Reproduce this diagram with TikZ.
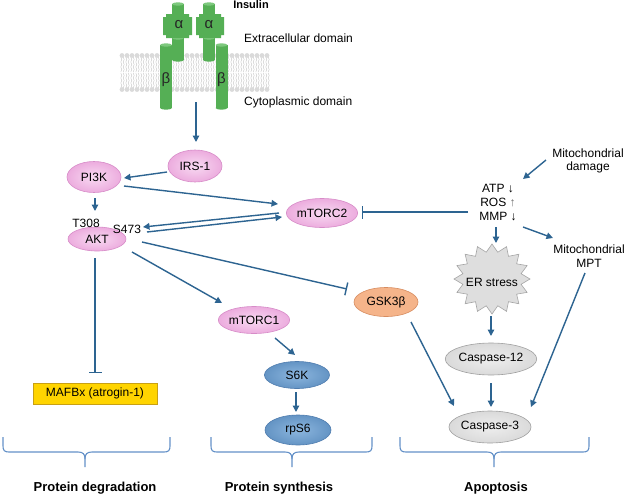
\documentclass[tikz,border=0pt]{standalone}
\usepackage{fontspec}
\setmainfont{Liberation Sans}
\usetikzlibrary{arrows.meta,shapes.geometric,calc}
\definecolor{arrc}{RGB}{45,100,145}
\definecolor{bracec}{RGB}{100,145,200}
\definecolor{pinkb}{RGB}{215,140,200}
\definecolor{pinkin}{RGB}{248,218,242}
\definecolor{pinkout}{RGB}{236,172,222}
\definecolor{blueb}{RGB}{80,125,175}
\definecolor{bluein}{RGB}{140,182,222}
\definecolor{blueout}{RGB}{100,148,196}
\definecolor{greyb}{RGB}{160,160,160}
\definecolor{greyin}{RGB}{238,238,238}
\definecolor{greyout}{RGB}{218,218,218}
\definecolor{orangeb}{RGB}{215,140,95}
\definecolor{orangef}{RGB}{245,180,138}
\definecolor{yellowb}{RGB}{200,160,20}
\definecolor{yellowf}{RGB}{255,212,0}
\definecolor{gfill}{RGB}{85,175,85}
\definecolor{gtop}{RGB}{125,200,125}
\definecolor{headc}{RGB}{218,218,218}
\definecolor{tailc}{RGB}{200,200,200}
\definecolor{starf}{RGB}{222,222,222}
\definecolor{starb}{RGB}{165,165,165}
\newcommand{\rcyl}[4]{%
  \fill[gfill] (#1-#2,#3) rectangle (#1+#2,#4);
  \fill[gfill] (#1,#4) ellipse (#2pt and 1.6pt);
  \fill[gtop] (#1,#3) ellipse (#2pt and 1.6pt);
}
\newcommand{\mybrace}[3]{%
  \draw[brc] (#1,437) -- (#1,446) .. controls (#1,450.5) and (#1+1.5,452) .. (#1+6,452) -- (#3-7,452) .. controls (#3-2,452) and (#3,454) .. (#3,459) -- (#3,467);
  \draw[brc] (#2,437) -- (#2,446) .. controls (#2,450.5) and (#2-1.5,452) .. (#2-6,452) -- (#3+7,452) .. controls (#3+2,452) and (#3,454) .. (#3,459);
}
\begin{document}
\begin{tikzpicture}[x=1pt,y=-1pt,
  every node/.style={font=\fontsize{12}{14}\selectfont, inner sep=0pt},
  arr/.style={draw=arrc, line width=1.4pt, -{Triangle[length=6.5pt,width=6.5pt]}},
  inh/.style={draw=arrc, line width=1.4pt, -{Bar[width=13pt,line width=1.4pt]}},
  ell/.style={ellipse, line width=0.6pt},
  pinkn/.style={ell, draw=pinkb, inner color=pinkin, outer color=pinkout},
  bluen/.style={ell, draw=blueb, inner color=bluein, outer color=blueout},
  greyn/.style={ell, draw=greyb, inner color=greyin, outer color=greyout},
  orangen/.style={ell, draw=orangeb, fill=orangef},
  brc/.style={draw=bracec, line width=1.1pt},
  lbl/.style={font=\bfseries\fontsize{13}{15}\selectfont},
  tail/.style={draw=tailc, line width=0.45pt},
  greek/.style={font=\fontsize{15}{17}\selectfont, text=black!85},
]
\useasboundingbox (0,0) rectangle (625,496);
\fill[white] (0,0) rectangle (625,496);

% ---- lipid bilayer ----
\foreach \x in {122,127,...,267} {
  \draw[tail] (\x-1.2,57) -- (\x-0.2,59.5) -- (\x-1.2,62) -- (\x-0.2,64.5) -- (\x-1.2,67) -- (\x-0.2,69.5) -- (\x-1.2,72);
  \draw[tail] (\x+1.2,57) -- (\x+2.2,59.5) -- (\x+1.2,62) -- (\x+2.2,64.5) -- (\x+1.2,67) -- (\x+2.2,69.5) -- (\x+1.2,72);
  \draw[tail] (\x-1.2,73) -- (\x-0.2,75.5) -- (\x-1.2,78) -- (\x-0.2,80.5) -- (\x-1.2,83) -- (\x-0.2,85.5) -- (\x-1.2,88);
  \draw[tail] (\x+1.2,73) -- (\x+2.2,75.5) -- (\x+1.2,78) -- (\x+2.2,80.5) -- (\x+1.2,83) -- (\x+2.2,85.5) -- (\x+1.2,88);
  \fill[headc] (\x,55.5) circle (2.4pt);
  \fill[headc] (\x,89.5) circle (2.4pt);
}

% ---- receptor ----
\rcyl{166}{6}{45}{108}
\rcyl{221.5}{6}{45}{108}
\rcyl{178}{6}{38}{60}
\rcyl{209}{6}{38}{60}
\rcyl{178}{6}{4}{15}
\rcyl{209}{6}{4}{15}
\fill[gfill] (163,17) -- (166,17) -- (166,14) -- (189,14) -- (189,17) -- (192,17) -- (192,35) -- (189,35) -- (189,38) -- (166,38) -- (166,35) -- (163,35) -- cycle;
\fill[gfill] (196,17) -- (199,17) -- (199,14) -- (221,14) -- (221,17) -- (224,17) -- (224,35) -- (221,35) -- (221,38) -- (199,38) -- (199,35) -- (196,35) -- cycle;
\node[greek] (a1) at (179,25) {α};
\node[greek] (a2) at (209,25) {α};
\node[greek] (b1) at (166,80) {β};
\node[greek] (b2) at (221.5,80) {β};
\coordinate (rec) at (196,102);

\node[font=\bfseries\fontsize{11}{13}\selectfont] (ins) at (251,4.5) {Insulin};
\node[anchor=west] (ext) at (244,38) {Extracellular domain};
\node[anchor=west] (cyt) at (244,102) {Cytoplasmic domain};

% ---- ER stress star ----
\coordinate (erc) at (492,279);
\begin{scope}[shift={(erc)}]
\filldraw[fill=starf, draw=starb, line width=0.6pt] (0:38pt and 35pt)
  \foreach \i in {1,...,31} { -- ({\i*11.25}:{38pt*(1-0.22*mod(\i,2))} and {35pt*(1-0.22*mod(\i,2))}) } -- cycle;
\end{scope}

% ---- nodes ----
\node[pinkn, minimum width=54pt, minimum height=32pt] (irs) at (195,166) {IRS-1};
\node[pinkn, minimum width=54pt, minimum height=31pt] (pi3k) at (94,177) {PI3K};
\node[pinkn, minimum width=58pt, minimum height=24pt] (akt) at (97,239) {AKT};
\node[pinkn, minimum width=63pt, minimum height=29pt] (mtorc2) at (322,213) {mTORC2};
\node[pinkn, minimum width=62pt, minimum height=27pt] (mtorc1) at (254,320) {mTORC1};
\node[orangen, minimum width=64pt, minimum height=29pt] (gsk) at (386,302) {GSK3β};
\node[bluen, minimum width=65pt, minimum height=27pt] (s6k) at (297,375) {S6K};
\node[bluen, minimum width=66pt, minimum height=30pt] (rps6) at (298,430) {rpS6};
\node[greyn, minimum width=84pt, minimum height=32pt] (casp12) at (491,359) {Caspase-12};
\node[greyn, minimum width=73pt, minimum height=32pt] (casp3) at (490,427) {Caspase-3};
\node[draw=yellowb, fill=yellowf, line width=0.8pt, minimum width=124pt, minimum height=21pt] (mafbx) at (95,393.5) {MAFBx (atrogin-1)};
\node (er) at (492,282) {ER stress};
\node (t308) at (86,223) {T308};
\node (s473) at (127,229) {S473};
\node[align=center] (mito) at (498,203) {ATP ↓\\ROS {\color{black!55}↑}\\MMP ↓};
\node[align=center, font=\fontsize{12}{13}\selectfont] (dam) at (588,161) {Mitochondrial\\damage};
\node[align=center, font=\fontsize{12}{13.5}\selectfont] (mpt) at (589,256) {Mitochondrial\\MPT};

\node[lbl] (l1) at (95,488) {Protein degradation};
\node[lbl] (l2) at (279,488) {Protein synthesis};
\node[lbl] (l3) at (496,488) {Apoptosis};

% ---- connectors ----
\draw[arr] (rec) -- ($(irs)+(1,-24)$);
\draw[arr] ($(irs)+(-28,6)$) -- ($(pi3k)+(30,1)$);
\draw[arr] ($(pi3k)+(30,9)$) -- ($(mtorc2)+(-44,-9)$);
\draw[arr] ($(pi3k)+(1,21)$) -- ($(akt)+(-2,-28)$);
\draw[arr] ($(mtorc2)+(-43,0)$) -- ($(akt)+(46,-12)$);
\draw[arr] ($(akt)+(50,-7)$) -- ($(mtorc2)+(-40,4)$);
\draw[inh] ($(mito)+(-30,9)$) -- ($(mtorc2)+(40,-1)$);
\draw[arr] ($(dam)+(-42,-1)$) -- ($(mito)+(25,-24)$);
\draw[arr] ($(mito)+(-2,24)$) -- ($(er)+(4,-39)$);
\draw[arr] ($(er)+(-1,34)$) -- ($(casp12)+(0,-23)$);
\draw[arr] ($(casp12)+(0,24)$) -- ($(casp3)+(1,-20)$);
\draw[arr] ($(mito)+(25,24)$) -- ($(mpt)+(-36,-18)$);
\draw[arr] ($(mpt)+(-4,17)$) -- ($(casp3)+(41,-20)$);
\draw[arr] ($(gsk)+(25,20)$) -- ($(casp3)+(-36,-21)$);
\draw[inh] ($(akt)+(45,3)$) -- ($(gsk)+(-39,-13)$);
\draw[arr] ($(akt)+(35,13)$) -- ($(mtorc1)+(-32,-17)$);
\draw[arr] ($(mtorc1)+(21,18)$) -- ($(s6k)+(-2,-20)$);
\draw[arr] ($(s6k)+(-1,17)$) -- ($(rps6)+(-2,-18)$);
\draw[inh] ($(akt)+(-2,19)$) -- ($(mafbx)+(0,-20.5)$);

% ---- braces ----
\mybrace{3}{170}{85}
\mybrace{211}{372}{292}
\mybrace{400}{589}{494}
\end{tikzpicture}
\end{document}
